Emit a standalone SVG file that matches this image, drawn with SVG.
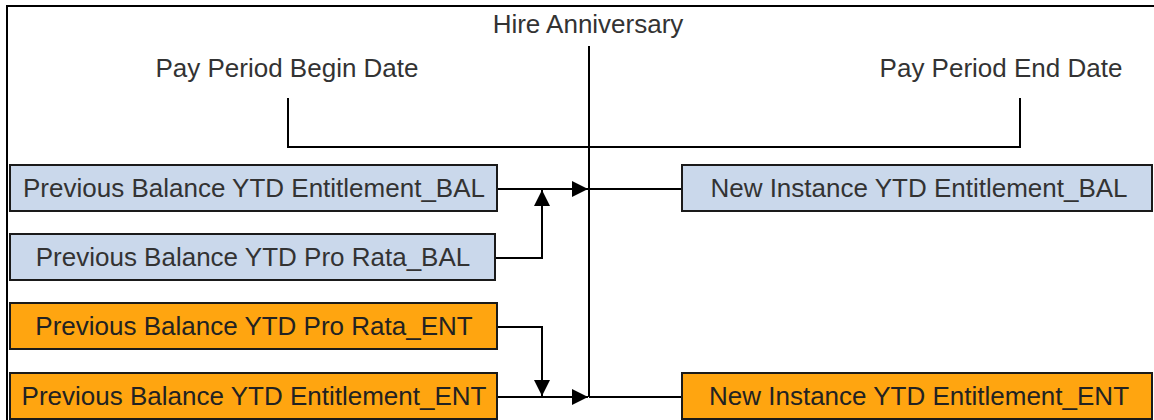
<svg xmlns="http://www.w3.org/2000/svg" width="1154" height="420" viewBox="0 0 1154 420">
<defs>
<style>
.bal{fill:#CAD8EB;stroke:#1a1a1a;stroke-width:2}
.ent{fill:#FFA510;stroke:#1a1a1a;stroke-width:2}
.t{font-family:"Liberation Sans",Arial,sans-serif;font-size:26px;fill:#333;text-anchor:middle}
.te{font-family:"Liberation Sans",Arial,sans-serif;font-size:26px;fill:#222;text-anchor:middle}
.lbl{font-family:"Liberation Sans",Arial,sans-serif;font-size:26px;fill:#333;text-anchor:middle}
.ln{fill:none;stroke:#000;stroke-width:2}
</style>
<marker id="ah" viewBox="0 0 16 16" refX="16" refY="8" markerWidth="16" markerHeight="16" markerUnits="userSpaceOnUse" orient="auto">
<path d="M0,0 L16,8 L0,16 Z" fill="#000"/>
</marker>
</defs>
<rect width="1154" height="420" fill="#fff"/>
<path class="ln" d="M7,420 V6 H1154"/>
<g id="labels">
<text class="lbl" x="588" y="33">Hire Anniversary</text>
<text class="lbl" x="287" y="77">Pay Period Begin Date</text>
<text class="lbl" x="1001" y="77">Pay Period End Date</text>
</g>
<g id="connectors">
<path class="ln" d="M589,46 V397"/>
<path class="ln" d="M288,98 V147 H1020 V98"/>
<path class="ln" d="M497,189 H588" marker-end="url(#ah)"/>
<path class="ln" d="M589,189 H682"/>
<path class="ln" d="M495,258 H542 V190" marker-end="url(#ah)"/>
<path class="ln" d="M497,327 H542 V396" marker-end="url(#ah)"/>
<path class="ln" d="M497,397 H588" marker-end="url(#ah)"/>
<path class="ln" d="M589,397 H682"/>
</g>
<g id="prev-ent-bal">
<rect class="bal" x="10" y="165" width="487" height="46"/>
<text class="t" x="254" y="197">Previous Balance YTD Entitlement_BAL</text>
</g>
<g id="prev-pro-bal">
<rect class="bal" x="10" y="234" width="485" height="46"/>
<text class="t" x="253" y="266">Previous Balance YTD Pro Rata_BAL</text>
</g>
<g id="prev-pro-ent">
<rect class="ent" x="10" y="303" width="487" height="46"/>
<text class="te" x="254" y="335">Previous Balance YTD Pro Rata_ENT</text>
</g>
<g id="prev-ent-ent">
<rect class="ent" x="10" y="373" width="487" height="46"/>
<text class="te" x="254" y="405">Previous Balance YTD Entitlement_ENT</text>
</g>
<g id="new-bal">
<rect class="bal" x="682" y="165" width="470" height="46"/>
<text class="t" x="919" y="197">New Instance YTD Entitlement_BAL</text>
</g>
<g id="new-ent">
<rect class="ent" x="682" y="373" width="470" height="46"/>
<text class="te" x="919" y="405">New Instance YTD Entitlement_ENT</text>
</g>
</svg>
